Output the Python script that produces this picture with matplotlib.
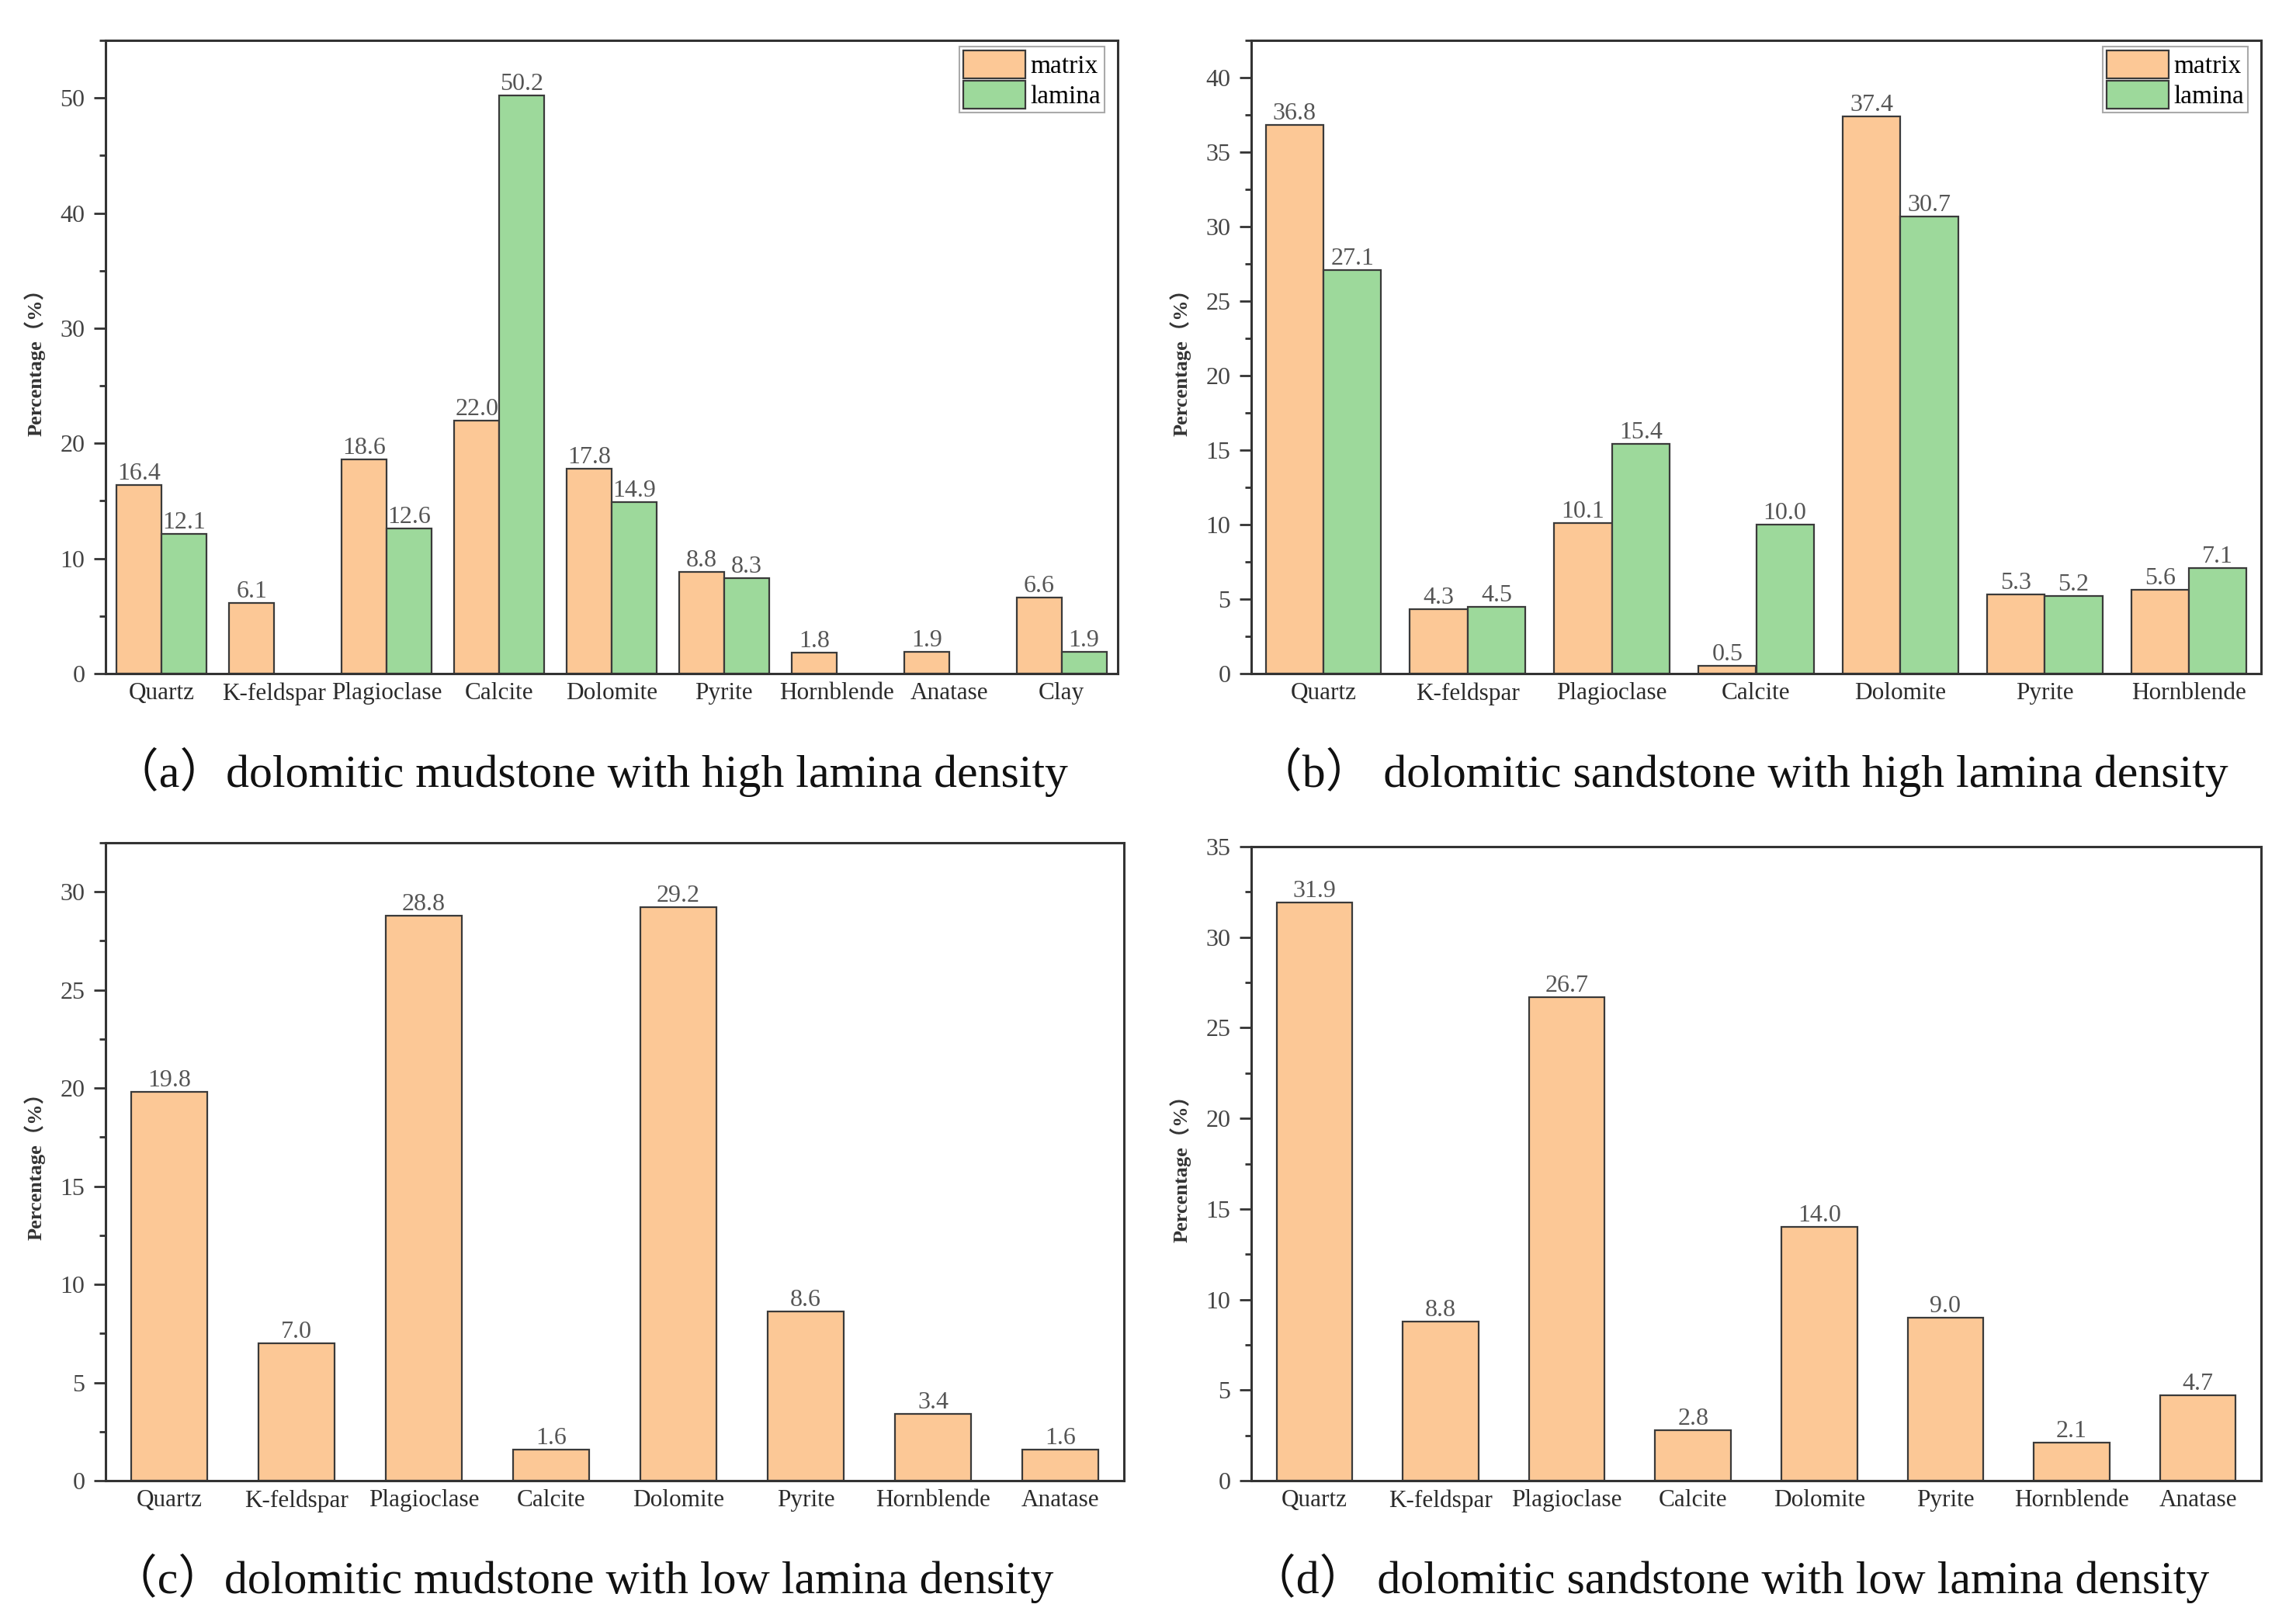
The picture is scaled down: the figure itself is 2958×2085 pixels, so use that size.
import matplotlib
matplotlib.use("Agg")
import matplotlib.pyplot as plt
import matplotlib.ticker as mticker
import numpy as np

# mineral categories
minerals_a = ["Quartz", "K-feldspar", "Plagioclase", "Calcite", "Dolomite",
              "Pyrite", "Hornblende", "Anatase", "Clay"]
matrix_a = [16.4, 6.1, 18.6, 22.0, 17.8, 8.8, 1.8, 1.9, 6.6]
lamina_a = [12.1, np.nan, 12.6, 50.2, 14.9, 8.3, np.nan, np.nan, 1.9]

minerals_b = ["Quartz", "K-feldspar", "Plagioclase", "Calcite", "Dolomite",
              "Pyrite", "Hornblende"]
matrix_b = [36.8, 4.3, 10.1, 0.5, 37.4, 5.3, 5.6]
lamina_b = [27.1, 4.5, 15.4, 10.0, 30.7, 5.2, 7.1]

minerals_cd = ["Quartz", "K-feldspar", "Plagioclase", "Calcite", "Dolomite",
               "Pyrite", "Hornblende", "Anatase"]
matrix_c = [19.8, 7.0, 28.8, 1.6, 29.2, 8.6, 3.4, 1.6]
matrix_d = [31.9, 8.8, 26.7, 2.8, 14.0, 9.0, 2.1, 4.7]

captions = ["（a）dolomitic mudstone with high lamina density",
            "（b） dolomitic sandstone with high lamina density",
            "（c）dolomitic mudstone with low lamina density",
            "（d） dolomitic sandstone with low lamina density"]

ORANGE = "#FCC896"
GREEN = "#9DD99B"
EDGE = "#3a3a3a"
SERIF = ["Liberation Serif", "Noto Sans CJK SC"]

plt.rcParams["font.family"] = SERIF

W, H = 2958, 2085
fig = plt.figure(figsize=(W / 100, H / 100), dpi=100)


def px_axes(left, top, right, bottom):
    return fig.add_axes([left / W, 1 - bottom / H, (right - left) / W, (bottom - top) / H])


def style_axes(ax, ymax, major):
    ax.set_ylim(0, ymax)
    ax.yaxis.set_major_locator(mticker.MultipleLocator(major))
    ax.yaxis.set_minor_locator(mticker.MultipleLocator(major / 2))
    for s in ax.spines.values():
        s.set_linewidth(2.2)
        s.set_color("#333333")
    ax.tick_params(axis="y", which="major", direction="out", length=11, width=2,
                   labelsize=23, pad=8, colors="#333333", labelcolor="#444444")
    ax.tick_params(axis="y", which="minor", direction="out", length=6, width=2,
                   colors="#333333")
    ax.tick_params(axis="x", length=0, pad=8, labelsize=22.5, labelcolor="#2a2a2a")
    ax.set_ylabel("Percentage（%）", fontsize=19, fontweight="bold",
                  color="#333333", labelpad=14)


def label_bars(ax, bars, values):
    for b, v in zip(bars, values):
        if np.isnan(v):
            continue
        ax.annotate(f"{v:.1f}", xy=(b.get_x() + b.get_width() / 2, v),
                    xytext=(0, 0), textcoords="offset points",
                    ha="center", va="bottom", fontsize=23, color="#555555")


def grouped(ax, cats, m, l, ymax, major):
    x = np.arange(len(cats))
    w = 0.4
    b1 = ax.bar(x - w / 2, m, w, color=ORANGE, edgecolor=EDGE, linewidth=1.6, label="matrix")
    b2 = ax.bar(x + w / 2, l, w, color=GREEN, edgecolor=EDGE, linewidth=1.6, label="lamina")
    label_bars(ax, b1, m)
    label_bars(ax, b2, l)
    ax.set_xticks(x)
    ax.set_xticklabels(cats)
    ax.set_xlim(-0.5, len(cats) - 0.5)
    style_axes(ax, ymax, major)
    leg = ax.legend(loc="upper right", bbox_to_anchor=(0.987, 0.99), fontsize=24,
                    handlelength=2.4, handleheight=1.3, labelspacing=0.08,
                    handletextpad=0.2, borderpad=0.15, borderaxespad=0,
                    fancybox=False, framealpha=1)
    leg.get_frame().set_edgecolor("#aaaaaa")
    leg.get_frame().set_linewidth(1.5)


def single(ax, cats, m, ymax, major):
    x = np.arange(len(cats))
    bars = ax.bar(x, m, 0.6, color=ORANGE, edgecolor=EDGE, linewidth=1.6)
    label_bars(ax, bars, m)
    ax.set_xticks(x)
    ax.set_xticklabels(cats)
    ax.set_xlim(-0.5, len(cats) - 0.5)
    style_axes(ax, ymax, major)


ax_a = px_axes(136, 52, 1440, 868)
ax_b = px_axes(1612, 52, 2913, 868)
ax_c = px_axes(136, 1086, 1448, 1908)
ax_d = px_axes(1612, 1091, 2913, 1908)

grouped(ax_a, minerals_a, matrix_a, lamina_a, 55, 10)
grouped(ax_b, minerals_b, matrix_b, lamina_b, 42.5, 5)
single(ax_c, minerals_cd, matrix_c, 32.5, 5)
single(ax_d, minerals_cd, matrix_d, 35, 5)

cap_pos = [(760, 1014), (2244, 1014), (750, 2053), (2228, 2053)]
for (cx, cy), txt in zip(cap_pos, captions):
    fig.text(cx / W, 1 - cy / H, txt, ha="center", va="baseline",
             fontsize=43, color="#111111", family=SERIF)

fig.savefig("out.png", dpi=100, facecolor="white")
